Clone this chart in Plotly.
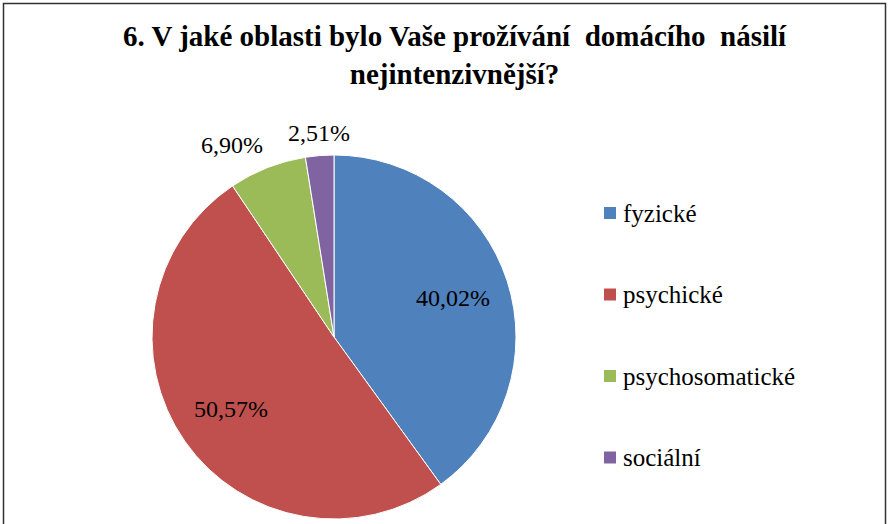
import math
import plotly.graph_objects as go

# Data
categories = ["fyzické", "psychické", "psychosomatické", "sociální"]
values = [40.02, 50.57, 6.90, 2.51]
colors = ["#4F81BD", "#C0504D", "#9BBB59", "#8064A2"]
label_inside = [True, True, False, False]
title_text = "6. V jaké oblasti bylo Vaše prožívání  domácího  násilí<br>nejintenzivnější?"

W, H = 893, 524
cx, cy, R = 334, 337, 182
SERIF = "Times New Roman, Liberation Serif, serif"

labels_txt = [f"{v:.2f}".replace(".", ",") + "%" for v in values]

fig = go.Figure(go.Pie(
    labels=categories,
    values=values,
    sort=False,
    direction="clockwise",
    rotation=0,
    marker=dict(colors=colors, line=dict(color="white", width=1)),
    textinfo="none",
    domain=dict(x=[(cx - R) / W, (cx + R) / W], y=[(H - cy - R) / H, (H - cy + R) / H]),
    showlegend=False,
    hoverinfo="label+percent",
))

shapes = [dict(type="rect", xref="paper", yref="paper", x0=3.5 / W, x1=885.5 / W, y0=-0.05, y1=1 - 3.5 / H,
               line=dict(color="#333333", width=1.5), fillcolor="rgba(0,0,0,0)")]
annotations = [dict(text="<b>" + title_text + "</b>", xref="paper", yref="paper", x=455 / W, y=1 - 55 / H,
                    xanchor="center", yanchor="middle", showarrow=False, align="center",
                    font=dict(family=SERIF, size=29, color="black"))]

# data labels placed along each slice's mid-angle (Excel-like best fit)
total = sum(values)
cum = 0.0
for v, txt, inside in zip(values, labels_txt, label_inside):
    theta = 2 * math.pi * (cum + v / 2) / total
    cum += v
    ux, uy = math.sin(theta), math.cos(theta)  # uy: upward component
    if inside:
        r = 0.69 * R
        px, py = cx + r * ux, cy - r * uy
        xa, ya = "center", "middle"
    else:
        r = R + 8
        px, py = cx + r * ux, cy - r * uy
        xa = "center" if abs(ux) < 0.2 else ("right" if ux < 0 else "left")
        ya = "bottom" if uy > 0 else "top"
    annotations.append(dict(text=txt, xref="paper", yref="paper", x=px / W, y=1 - py / H,
                            xanchor=xa, yanchor=ya, showarrow=False,
                            font=dict(family=SERIF, size=24, color="black")))

leg_x_sq, leg_x_txt = 604, 621
leg_y0, leg_dy = 213, 81.5
for i, (cat, col) in enumerate(zip(categories, colors)):
    y = leg_y0 + i * leg_dy
    shapes.append(dict(type="rect", xref="paper", yref="paper",
                       x0=leg_x_sq / W, x1=(leg_x_sq + 12) / W,
                       y0=1 - (y + 6) / H, y1=1 - (y - 6) / H,
                       fillcolor=col, line=dict(width=0)))
    annotations.append(dict(text=cat, xref="paper", yref="paper", x=leg_x_txt / W, y=1 - y / H,
                            xanchor="left", yanchor="middle", showarrow=False,
                            font=dict(family=SERIF, size=25, color="black")))

fig.update_layout(
    width=W, height=H,
    margin=dict(l=0, r=0, t=0, b=0),
    paper_bgcolor="white",
    plot_bgcolor="white",
    shapes=shapes,
    annotations=annotations,
)

fig.write_html("out.html", config={"displayModeBar": False},
               post_script="document.body.style.margin='0';")
